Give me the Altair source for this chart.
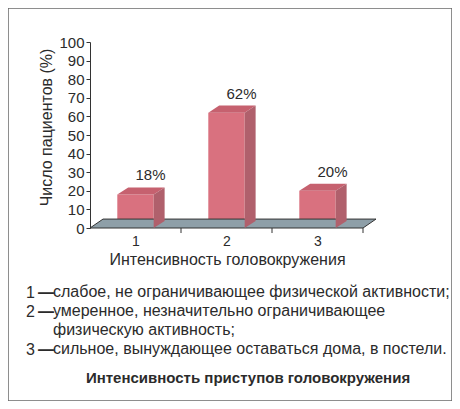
import altair as alt
import pandas as pd

# ---- data ----
categories = [1, 2, 3]
values = [18, 62, 20]
value_labels = ["18%", "62%", "20%"]
y_ticks = list(range(0, 101, 10))
category_bounds = [1.5, 2.5, 3.5]
legend_nums = ["1", "2", "3"]
legend_texts = [
    "слабое, не ограничивающее физической активности;",
    "умеренное, незначительно ограничивающее\nфизическую активность;",
    "сильное, вынуждающее оставаться дома, в постели.",
]
legend_rows = [0, 1, 3]
y_title = "Число пациентов (%)"
x_title = "Интенсивность головокружения"
caption = "Интенсивность приступов головокружения"

# ---- style ----
FONT = "Liberation Sans"
TXT = "#2b2b2b"
FRONT = "#d9717f"
TOP = "#c6616f"
SIDE = "#b0606c"
FLOOR = "#8e9fa8"
HALF = 0.2      # half bar width (category units)
BDX, BDY = 0.12, 3.8   # bar depth
FDX, FDY = 0.143, 4.8  # floor depth
PAD = {"left": 82, "top": 34, "right": 72, "bottom": 173}
W, H = 290, 186
ROW0, ROWH = 251, 19   # legend line placement (px, view coords)

xs = alt.Scale(domain=[0.5, 3.5], range=[0, 273], nice=False, zero=False)
ys = alt.Scale(domain=[0, 100], nice=False, zero=False)

X_AXIS = alt.Axis(
    values=categories, format="d", tickSize=0, domain=False, grid=False,
    labelFontSize=14, labelFont=FONT, labelColor=TXT, labelPadding=6,
    title=x_title, titleFontSize=16, titleFont=FONT, titleFontWeight="normal",
    titleColor=TXT, titlePadding=3, titleX=137,
)
Y_AXIS = alt.Axis(
    values=y_ticks, format="d", tickSize=4, grid=False,
    domainColor="#333", tickColor="#333",
    labelFontSize=15, labelFont=FONT, labelColor=TXT, labelPadding=2,
    title=y_title, titleFontSize=16, titleFont=FONT, titleFontWeight="normal",
    titleColor=TXT, titlePadding=4, titleY=85,
)

front = pd.DataFrame({
    "cat": categories,
    "x0": [c - HALF for c in categories],
    "x1": [c + HALF for c in categories],
    "v": values,
    "zero": [0] * len(values),
})
top_rows, side_rows = [], []
for c, v in zip(categories, values):
    top_rows.append({"cat": c, "y": v, "xa": c - HALF, "xb": c + HALF})
    top_rows.append({"cat": c, "y": v + BDY, "xa": c - HALF + BDX, "xb": c + HALF + BDX})
    side_rows.append({"cat": c, "x": c + HALF, "ya": 0, "yb": v})
    side_rows.append({"cat": c, "x": c + HALF + BDX, "ya": BDY, "yb": v + BDY})
top = pd.DataFrame(top_rows)
side = pd.DataFrame(side_rows)
floor = pd.DataFrame({"y": [0, FDY], "xa": [0.5, 0.5 + FDX], "xb": [3.5, 3.5 + FDX]})
bounds = pd.DataFrame({"x": category_bounds, "y": [0] * 3, "y2": [-2.7] * 3})
labels = pd.DataFrame({
    "x": [c + 0.165 for c in categories],
    "y": [v + BDY for v in values],
    "t": value_labels,
})

front_layer = alt.Chart(front).mark_rect(color=FRONT).encode(
    x=alt.X("x0:Q", scale=xs, axis=X_AXIS),
    x2="x1:Q",
    y=alt.Y("zero:Q", scale=ys, axis=Y_AXIS),
    y2="v:Q",
)

floor_layer = alt.Chart(floor).mark_area(
    orient="horizontal", color=FLOOR, stroke="#333", strokeWidth=1
).encode(
    y=alt.Y("y:Q", scale=ys, axis=Y_AXIS),
    x=alt.X("xa:Q", scale=xs, axis=X_AXIS),
    x2="xb:Q",
)

tick_layer = alt.Chart(bounds).mark_rule(color="#333", strokeWidth=1).encode(
    x=alt.X("x:Q", scale=xs, axis=X_AXIS),
    y=alt.Y("y:Q", scale=ys, axis=Y_AXIS),
    y2="y2:Q",
)

top_layer = alt.Chart(top).mark_area(orient="horizontal", color=TOP).encode(
    y=alt.Y("y:Q", scale=ys, axis=Y_AXIS),
    x=alt.X("xa:Q", scale=xs, axis=X_AXIS),
    x2="xb:Q",
    detail="cat:N",
)

side_layer = alt.Chart(side).mark_area(orient="vertical", color=SIDE).encode(
    x=alt.X("x:Q", scale=xs, axis=X_AXIS),
    y=alt.Y("ya:Q", scale=ys, axis=Y_AXIS),
    y2="yb:Q",
    detail="cat:N",
)

label_layer = alt.Chart(labels).mark_text(
    font=FONT, fontSize=15, color=TXT, baseline="bottom", dy=-4
).encode(
    x=alt.X("x:Q", scale=xs, axis=X_AXIS),
    y=alt.Y("y:Q", scale=ys, axis=Y_AXIS),
    text="t:N",
)

legend_layers = []
for num, text, row in zip(legend_nums, legend_texts, legend_rows):
    d = pd.DataFrame({"num": [num], "text": [text]})
    ypix = ROW0 + ROWH * row
    legend_layers.append(alt.Chart(d).mark_text(
        font=FONT, fontSize=16, color=TXT, align="left", baseline="middle"
    ).encode(x=alt.value(-64), y=alt.value(ypix), text="num:N"))
    legend_layers.append(alt.Chart(d).mark_text(
        font=FONT, fontSize=16, fontWeight="bold", color=TXT, align="left", baseline="middle"
    ).encode(x=alt.value(-52), y=alt.value(ypix), text=alt.value("—")))
    legend_layers.append(alt.Chart(d).mark_text(
        font=FONT, fontSize=16, color=TXT, align="left", baseline="top",
        lineBreak="\n", lineHeight=ROWH, dy=-9,
    ).encode(x=alt.value(-37), y=alt.value(ypix), text="text:N"))

caption_layer = alt.Chart(pd.DataFrame({"t": [caption]})).mark_text(
    font=FONT, fontSize=15, fontWeight="bold", color=TXT, align="center", baseline="middle"
).encode(x=alt.value(158), y=alt.value(336), text="t:N")

frame_layer = alt.Chart(pd.DataFrame({"f": [0]})).mark_rect(
    filled=False, stroke="#6a6a6a", strokeWidth=1.5
).encode(
    x=alt.value(-PAD["left"]), x2=alt.value(W + PAD["right"]),
    y=alt.value(-PAD["top"]), y2=alt.value(H + PAD["bottom"]),
)

chart = alt.layer(
    front_layer, frame_layer, floor_layer, tick_layer, top_layer, side_layer, label_layer,
    *legend_layers, caption_layer,
).properties(
    width=W, height=H,
    autosize=alt.AutoSizeParams(type="none"),
    padding=PAD,
    background="white",
).configure_view(stroke="transparent", strokeWidth=0)

chart.save("out.html", embed_options={"renderer": "svg", "actions": False})
